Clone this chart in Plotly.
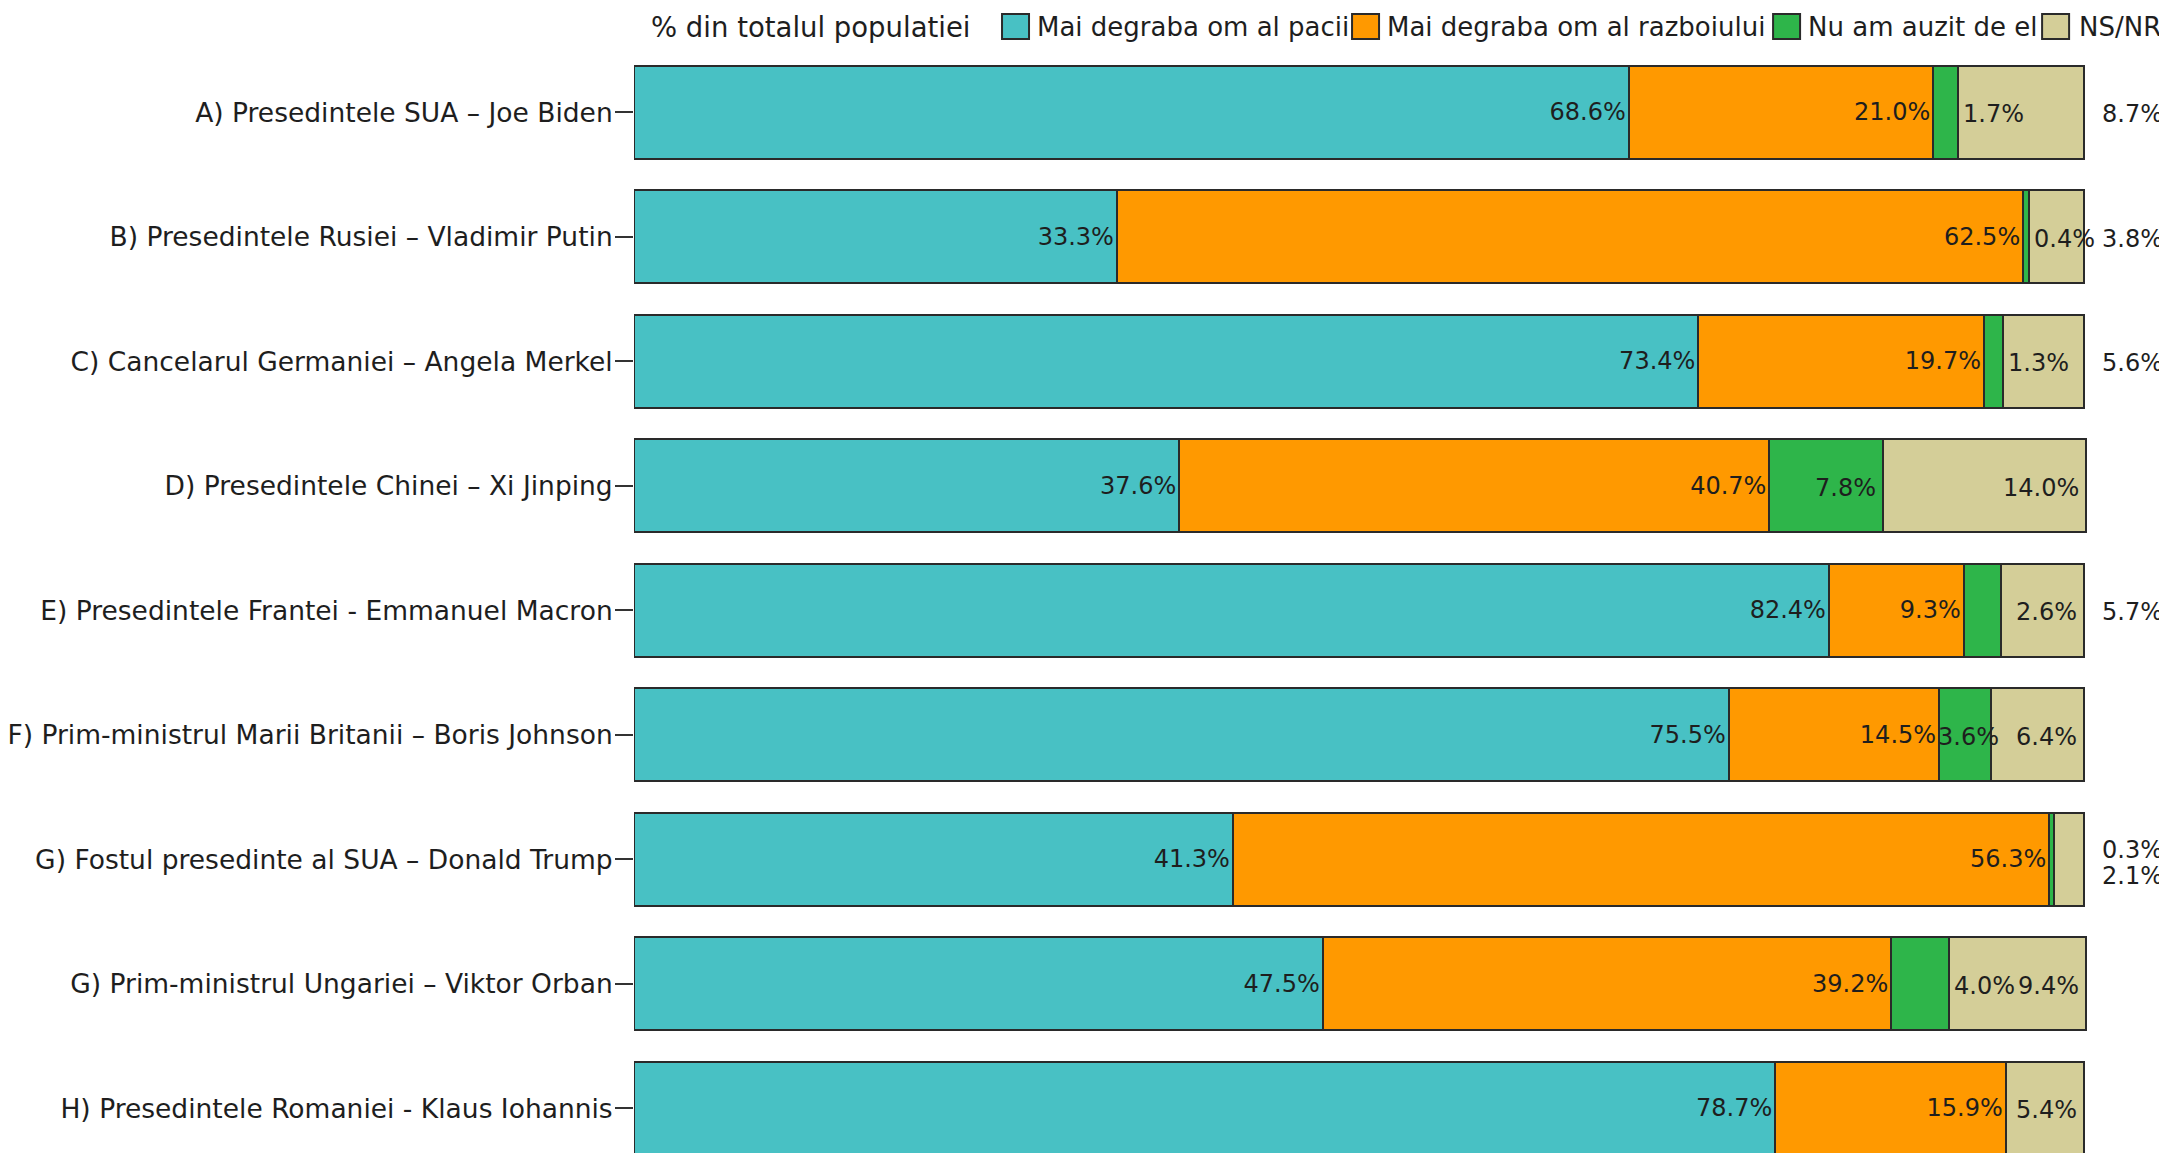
import plotly.graph_objects as go

# ---------------- data ----------------
categories = [
    "A) Presedintele SUA – Joe Biden",
    "B) Presedintele Rusiei – Vladimir Putin",
    "C) Cancelarul Germaniei – Angela Merkel",
    "D) Presedintele Chinei – Xi Jinping",
    "E) Presedintele Frantei - Emmanuel Macron",
    "F) Prim-ministrul Marii Britanii – Boris Johnson",
    "G) Fostul presedinte al SUA – Donald Trump",
    "G) Prim-ministrul Ungariei – Viktor Orban",
    "H) Presedintele Romaniei - Klaus Iohannis",
]
series_names = ["Mai degraba om al pacii", "Mai degraba om al razboiului",
                "Nu am auzit de el", "NS/NR"]
legend_title = "% din totalul populatiei"

pace = [68.6, 33.3, 73.4, 37.6, 82.4, 75.5, 41.3, 47.5, 78.7]
razboi = [21.0, 62.5, 19.7, 40.7, 9.3, 14.5, 56.3, 39.2, 15.9]
nu_auzit = [1.7, 0.4, 1.3, 7.8, 2.6, 3.6, 0.3, 4.0, 0.0]
nsnr = [8.7, 3.8, 5.6, 14.0, 5.7, 6.4, 2.1, 9.4, 5.4]

# label placement styles (how the original chart placed small-segment labels)
green_label_mode = ["after", "after", "after", "end", "bar_end", "center", "outside_up", "after", "none"]
tan_label_mode = ["outside", "outside", "outside", "end", "outside", "end", "outside_down", "end", "end"]

# ---------------- style ----------------
colors = ["#48C1C4", "#FF9900", "#2EB54A", "#D4CE98"]
edge = "#2a2a2a"
FONT = "DejaVu Sans, Verdana, sans-serif"
TXT = "#1e1e1e"

OFF = 8  # page body margin offset in the browser
W, H = 2167, 1153
XMAX = 100.2
px_per_unit = 14.50
ML = 634 - OFF
MT = 50 - OFF
MB = OFF
plot_w = px_per_unit * XMAX
MR = W - ML - plot_w
plot_h = H - MT - MB
pitch = 124.5  # px per category
y_units = plot_h / pitch

fig = go.Figure()
all_vals = [pace, razboi, nu_auzit, nsnr]
for i, (name, vals) in enumerate(zip(series_names, all_vals)):
    kw = {}
    if i < 2:
        kw = dict(
            text=[f"{v:.1f}%" for v in vals],
            textposition="inside",
            insidetextanchor="end",
            textangle=0,
            textfont=dict(family=FONT, size=24, color=TXT),
            constraintext="none",
        )
    fig.add_trace(go.Bar(
        y=categories, x=vals, name=name, orientation="h",
        marker=dict(color=colors[i], line=dict(color=edge, width=2)),
        width=0.75, showlegend=False, **kw,
    ))

annotations = []

def lab(x, y, text, anchor, xshift=0, yshift=0):
    annotations.append(dict(
        x=min(x, XMAX - 0.01), y=y, xref="x", yref="y", text=text, showarrow=False,
        xanchor=anchor, yanchor="middle", xshift=xshift, yshift=yshift - 2,
        font=dict(family=FONT, size=24, color=TXT),
    ))

for k, cat in enumerate(categories):
    g0 = pace[k] + razboi[k]
    g1 = g0 + nu_auzit[k]
    t1 = g1 + nsnr[k]
    total = 100.0
    gm = green_label_mode[k]
    gt = f"{nu_auzit[k]:.1f}%"
    if gm == "after":
        lab(g1, cat, gt, "left", 3)
    elif gm == "end":
        lab(g1, cat, gt, "right", -5)
    elif gm == "center":
        lab((g0 + g1) / 2, cat, gt, "center", 3)
    elif gm == "bar_end":
        lab(total, cat, gt, "right", -5)
    elif gm == "outside_up":
        lab(total, cat, gt, "left", 16, 11)
    tm = tan_label_mode[k]
    tt = f"{nsnr[k]:.1f}%"
    if tm == "outside":
        lab(total, cat, tt, "left", 16)
    elif tm == "end":
        lab(t1, cat, tt, "right", -5)
    elif tm == "outside_down":
        lab(total, cat, tt, "left", 16, -15)

# ---------------- manual legend (paper coords) ----------------
def px_x(px):
    return (px - OFF - ML) / plot_w

def px_y(py):
    return (H - MB - (py - OFF)) / plot_h

shapes = []
sq_left = [1002, 1352, 1773, 2042]
txt_left = [1035, 1385, 1806, 2077]
sq_top, sq_bot = 14, 39
leg_y = 27
for i, name in enumerate(series_names):
    shapes.append(dict(
        type="rect", xref="paper", yref="paper",
        x0=px_x(sq_left[i]), x1=px_x(sq_left[i] + 27),
        y0=px_y(sq_bot), y1=px_y(sq_top),
        fillcolor=colors[i], line=dict(color=edge, width=2),
    ))
    annotations.append(dict(
        x=px_x(txt_left[i]), y=px_y(leg_y), xref="paper", yref="paper",
        text=name, showarrow=False, xanchor="left", yanchor="middle",
        font=dict(family=FONT, size=26, color=TXT),
    ))
annotations.append(dict(
    x=px_x(972), y=px_y(leg_y), xref="paper", yref="paper",
    text=legend_title, showarrow=False, xanchor="right", yanchor="middle",
    font=dict(family=FONT, size=27.5, color=TXT),
))

fig.update_layout(
    width=W, height=H,
    margin=dict(l=ML, r=MR, t=MT, b=MB, pad=0, autoexpand=False),
    barmode="stack",
    plot_bgcolor="white", paper_bgcolor="white",
    annotations=annotations, shapes=shapes,
    showlegend=False,
    font=dict(family=FONT, color=TXT),
)
fig.update_xaxes(range=[0, XMAX], visible=False, fixedrange=True, automargin=False)
fig.update_yaxes(
    type="category",
    range=[-0.5 + y_units, -0.5],
    ticks="outside", ticklen=18, tickwidth=2, tickcolor="#333",
    tickfont=dict(family=FONT, size=26.5, color=TXT),
    showgrid=False, showline=False, zeroline=False, automargin=False,
)
try:
    fig.update_yaxes(ticklabelstandoff=-3)
except Exception:
    pass

fig.write_html("out.html")
